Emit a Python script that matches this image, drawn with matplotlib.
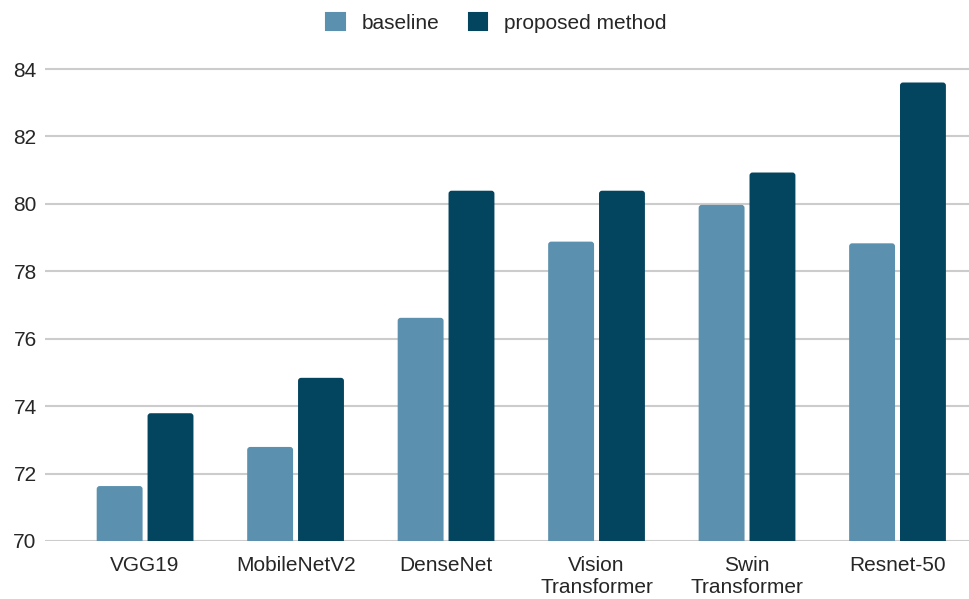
import matplotlib
matplotlib.use("Agg")
import matplotlib.pyplot as plt
from matplotlib.patches import FancyBboxPatch, Patch
import numpy as np

models = ["VGG19", "MobileNetV2", "DenseNet", "Vision\nTransformer", "Swin\nTransformer", "Resnet-50"]
baseline = [71.63, 72.79, 76.62, 78.88, 79.97, 78.83]
proposed = [73.79, 74.84, 80.39, 80.39, 80.93, 83.60]
series_names = ["baseline", "proposed method"]
y_ticks = [70, 72, 74, 76, 78, 80, 82, 84]

c_base = "#5b91ae"
c_prop = "#03445e"
text_c = "#262626"

plt.rcParams["font.family"] = ["Liberation Sans", "DejaVu Sans"]

W, H = 969, 599
fig = plt.figure(figsize=(W / 100, H / 100), dpi=100)
ax_left, ax_right = 45, 969
ax_bottom, ax_top = 541, 58.9
ax = fig.add_axes([ax_left / W, 1 - ax_bottom / H, (ax_right - ax_left) / W, (ax_bottom - ax_top) / H])

ymin, ymax = 70, 84.3
ax.set_ylim(ymin, ymax)
ax.set_xlim(-0.665, 5.475)

x = np.arange(len(models))
bw = 0.305
off = 0.169

# rounded-corner bars: bottoms sit below the axis floor so only top corners show
px_x = (ax.get_xlim()[1] - ax.get_xlim()[0]) / (ax_right - ax_left)
px_y = (ymax - ymin) / (ax_bottom - ax_top)
r = 3 * px_x
aspect = px_y / px_x
floor = ymin - 0.5
for vals, color, sign in [(baseline, c_base, -1), (proposed, c_prop, 1)]:
    for xi, v in zip(x, vals):
        p = FancyBboxPatch((xi + sign * off - bw / 2, floor), bw, v - floor,
                           boxstyle=f"round,pad=0,rounding_size={r}",
                           mutation_aspect=aspect, facecolor=color,
                           edgecolor="none", zorder=3, clip_on=True)
        ax.add_patch(p)

ax.set_yticks(y_ticks)
ax.grid(axis="y", color="#cccccc", linewidth=1.5, zorder=0)
ax.set_axisbelow(True)
for s in ax.spines.values():
    s.set_visible(False)
ax.tick_params(axis="y", length=0, pad=6, labelsize=15, labelcolor=text_c)
ax.tick_params(axis="x", length=0, pad=10.5, labelsize=15, labelcolor=text_c)
ax.set_xticks(x)
ax.set_xticklabels(models, linespacing=1.25)

handles = [Patch(facecolor=c_base, edgecolor=c_base, linewidth=1.5, joinstyle="round"),
           Patch(facecolor=c_prop, edgecolor=c_prop, linewidth=1.5, joinstyle="round")]
fig.legend(handles, series_names, loc="center", bbox_to_anchor=(0.5 + 12 / W, 1 - 23 / H),
           ncol=2, frameon=False, fontsize=15, handlelength=0.9, handleheight=0.9,
           handletextpad=0.8, columnspacing=1.4, labelcolor=text_c)

fig.savefig("out.png", dpi=100)
